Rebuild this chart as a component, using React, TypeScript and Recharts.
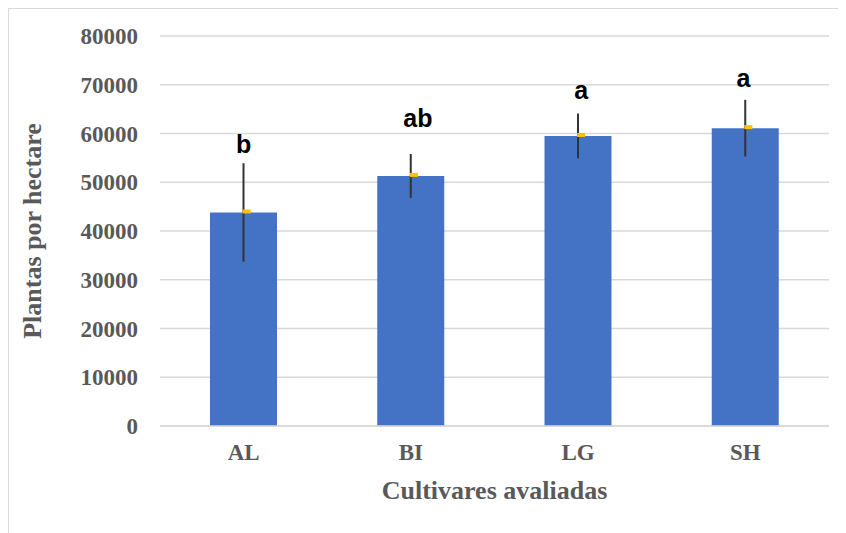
import React from 'react';
import { ComposedChart, Bar, Line, XAxis, YAxis, CartesianGrid, ErrorBar, LabelList, Label } from 'recharts';

const cultivars = ['AL', 'BI', 'LG', 'SH'];
const plantsPerHa = [43800, 51300, 59500, 61100];
const stdDev = [10100, 4500, 4600, 5800];
const groupLetters = ['b', 'ab', 'a', 'a'];
const yTicks = [0, 10000, 20000, 30000, 40000, 50000, 60000, 70000, 80000];

const data = cultivars.map((name, i) => ({
  cultivar: name,
  plants: plantsPerHa[i],
  err: stdDev[i],
  upper: plantsPerHa[i] + stdDev[i],
  letter: groupLetters[i],
}));

// hand-tuned spacing of the significance letters above each whisker
const letterLift = [10, 27, 15, 13];
const letterNudge = [0, 7, 3, -2];

const axisFont = { fill: '#595959', fontSize: 23, fontWeight: 700, fontFamily: '"Liberation Serif", serif' };

const MeanTick = (props: any) => {
  const { cx, cy } = props;
  if (cx == null || cy == null) return null;
  return <rect x={cx - 1} y={cy - 3} width={8} height={4} fill="#FFC000" />;
};

const LetterLabel = (props: any) => {
  const { x, y, value, index } = props;
  return (
    <text
      x={x + letterNudge[index]}
      y={y - letterLift[index]}
      textAnchor="middle"
      fill="#000"
      fontSize={25}
      fontWeight={700}
      fontFamily='"Liberation Sans", Arial, sans-serif'
    >
      {value}
    </text>
  );
};

const XTitle = (props: any) => {
  const { viewBox } = props;
  const cx = viewBox.x + viewBox.width / 2;
  const cy = viewBox.y + 64;
  return (
    <text x={cx} y={cy} textAnchor="middle" dominantBaseline="central" {...axisFont} fontSize={26}>
      Cultivares avaliadas
    </text>
  );
};

const YTitle = (props: any) => {
  const { viewBox } = props;
  const cx = viewBox.x + 23;
  const cy = viewBox.y + viewBox.height / 2;
  return (
    <text
      x={cx}
      y={cy}
      transform={`rotate(-90 ${cx} ${cy})`}
      textAnchor="middle"
      dominantBaseline="central"
      {...axisFont}
      fontSize={26}
    >
      Plantas por hectare
    </text>
  );
};

export default function App() {
  return (
    <div style={{ width: 846, height: 540, border: '1px solid #d9d9d9', background: '#fff' }}>
      <style>{'body{overflow:hidden}'}</style>
      <ComposedChart width={837} height={524} data={data} margin={{ top: 27, right: 17, left: 0, bottom: 0 }}>
        <CartesianGrid vertical={false} stroke="#d9d9d9" strokeWidth={1.5} />
        <XAxis
          dataKey="cultivar"
          height={107}
          tick={axisFont}
          tickLine={false}
          tickSize={0}
          tickMargin={18}
          axisLine={{ stroke: '#d9d9d9', strokeWidth: 1.5 }}
        >
          <Label content={XTitle} />
        </XAxis>
        <YAxis
          width={151}
          domain={[0, 80000]}
          ticks={yTicks}
          interval={0}
          tick={axisFont}
          tickLine={false}
          tickSize={0}
          tickMargin={22}
          axisLine={false}
        >
          <Label content={YTitle} />
        </YAxis>
        <Bar dataKey="plants" fill="#4472C4" barSize={67} isAnimationActive={false}>
          <ErrorBar dataKey="err" width={0} stroke="#333333" strokeWidth={2} direction="y" />
        </Bar>
        <Line dataKey="plants" stroke="none" dot={<MeanTick />} activeDot={false} isAnimationActive={false} />
        <Line dataKey="upper" stroke="none" dot={false} activeDot={false} isAnimationActive={false}>
          <LabelList dataKey="letter" content={LetterLabel} />
        </Line>
      </ComposedChart>
    </div>
  );
}
